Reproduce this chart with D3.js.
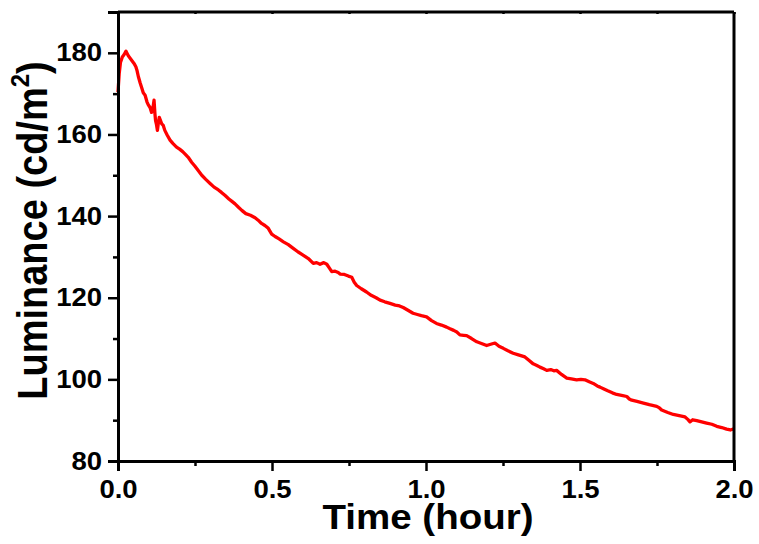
<!DOCTYPE html>
<html>
<head>
<meta charset="utf-8">
<script src="https://cdn.jsdelivr.net/npm/d3@7"></script>
<style>
  body { margin: 0; background: #fff; }
  text { font-family: "Liberation Sans", Arial, sans-serif; font-weight: bold; fill: #000; }
</style>
</head>
<body>
<div id="chart"></div>
<script>
// time in hours and luminance in cd/m2
var timeHours = [
  0.000, 0.004, 0.008, 0.014, 0.020, 0.026, 0.030, 0.034, 0.040, 0.046,
  0.052, 0.058, 0.062, 0.066, 0.072, 0.078, 0.082, 0.088, 0.094, 0.098,
  0.104, 0.109, 0.114, 0.117, 0.120, 0.122, 0.125, 0.128, 0.131, 0.134,
  0.138, 0.142, 0.147, 0.152, 0.160, 0.169, 0.178, 0.190, 0.200, 0.210,
  0.218, 0.228, 0.239, 0.250, 0.261, 0.272, 0.285, 0.299, 0.312, 0.326,
  0.336, 0.347, 0.360, 0.370, 0.380, 0.392, 0.402, 0.415, 0.430, 0.445,
  0.455, 0.466, 0.477, 0.488, 0.499, 0.510, 0.523, 0.537, 0.553, 0.569,
  0.585, 0.602, 0.618, 0.634, 0.645, 0.656, 0.668, 0.678, 0.687, 0.694,
  0.705, 0.715, 0.721, 0.735, 0.748, 0.759, 0.767, 0.775, 0.790, 0.807,
  0.822, 0.838, 0.851, 0.866, 0.883, 0.900, 0.914, 0.926, 0.940, 0.958,
  0.972, 0.985, 1.002, 1.018, 1.034, 1.050, 1.067, 1.078, 1.090, 1.100,
  1.110, 1.122, 1.132, 1.148, 1.165, 1.180, 1.197, 1.210, 1.224, 1.237,
  1.251, 1.266, 1.283, 1.300, 1.321, 1.335, 1.348, 1.360, 1.370, 1.382,
  1.392, 1.405, 1.415, 1.424, 1.440, 1.457, 1.472, 1.489, 1.503, 1.516,
  1.530, 1.543, 1.556, 1.565, 1.576, 1.590, 1.605, 1.619, 1.635, 1.652,
  1.660, 1.668, 1.685, 1.706, 1.725, 1.749, 1.758, 1.765, 1.785, 1.803,
  1.822, 1.841, 1.850, 1.857, 1.866, 1.879, 1.895, 1.911, 1.928, 1.944,
  1.960, 1.976, 1.988, 2.000
];
var luminance = [
  170.4, 175.0, 177.6, 179.0, 179.6, 180.4, 179.8, 179.2, 178.6, 178.0,
  177.4, 176.6, 175.6, 174.2, 172.6, 171.2, 170.2, 169.6, 168.0, 167.3,
  166.6, 165.4, 166.8, 168.4, 165.0, 163.4, 162.4, 161.0, 162.8, 164.2,
  163.4, 162.6, 162.2, 161.0, 159.8, 158.6, 157.8, 156.9, 156.4, 155.8,
  155.2, 154.4, 153.2, 152.2, 151.1, 150.0, 149.0, 148.0, 147.1, 146.4,
  145.8, 145.1, 144.2, 143.6, 143.0, 142.1, 141.4, 140.6, 140.2, 139.6,
  139.0, 138.2, 137.7, 137.0, 135.6, 135.0, 134.4, 133.7, 133.0, 132.1,
  131.2, 130.4, 129.6, 128.4, 128.6, 128.2, 128.6, 128.2, 127.2, 126.4,
  126.5, 126.2, 125.8, 125.7, 125.3, 125.0, 123.8, 123.0, 122.2, 121.4,
  120.6, 120.0, 119.4, 119.0, 118.6, 118.2, 118.0, 117.6, 117.0, 116.2,
  115.9, 115.6, 115.3, 114.4, 113.7, 113.3, 112.8, 112.4, 112.0, 111.6,
  110.9, 110.8, 110.7, 110.0, 109.2, 108.8, 108.3, 108.6, 108.9, 108.1,
  107.6, 107.0, 106.4, 106.0, 105.5, 104.6, 103.8, 103.4, 103.0, 102.6,
  102.2, 102.4, 102.1, 102.2, 101.2, 100.3, 100.1, 99.9, 100.0, 99.9,
  99.4, 99.0, 98.4, 98.1, 97.7, 97.2, 96.7, 96.3, 96.1, 95.8,
  95.2, 94.9, 94.6, 94.2, 93.8, 93.4, 93.0, 92.5, 91.9, 91.4,
  91.1, 90.8, 90.2, 89.6, 90.1, 89.9, 89.6, 89.3, 89.0, 88.5,
  88.2, 87.8, 87.6, 87.9
];
var xTicks = [0, 0.5, 1.0, 1.5, 2.0];
var xMinor = [0.25, 0.75, 1.25, 1.75];
var yTicks = [80, 100, 120, 140, 160, 180];
var yMinor = [90, 110, 130, 150, 170];

var width = 759, height = 544;
var margin = {top: 12, right: 25, bottom: 83, left: 118};
var innerW = width - margin.left - margin.right,
    innerH = height - margin.top - margin.bottom;

var svg = d3.select("#chart").append("svg")
    .attr("width", width)
    .attr("height", height);

var g = svg.append("g")
    .attr("transform", "translate(" + margin.left + "," + margin.top + ")");

var x = d3.scaleLinear().domain([0, 2]).range([0, innerW]);
var y = d3.scaleLinear().domain([80, 190]).range([innerH, 0]);

var data = timeHours.map((t, i) => ({t: t, v: luminance[i]}));

// the curve
g.append("path")
    .datum(data)
    .attr("fill", "none")
    .attr("stroke", "#ff0000")
    .attr("stroke-width", 3.3)
    .attr("stroke-linejoin", "round")
    .attr("d", d3.line().x(d => x(d.t)).y(d => y(d.v)));

// bottom axis, major + minor
var xAxis = g.append("g")
    .attr("transform", "translate(0," + innerH + ")")
    .call(d3.axisBottom(x).tickValues(xTicks).tickSize(10).tickPadding(9).tickFormat(d3.format(".1f")));
g.append("g")
    .attr("transform", "translate(0," + innerH + ")")
    .call(d3.axisBottom(x).tickValues(xMinor).tickSize(5).tickFormat(""))
    .select(".domain").remove();

// left axis
var yAxis = g.append("g")
    .call(d3.axisLeft(y).tickValues(yTicks).tickSize(10).tickPadding(6));
g.append("g")
    .call(d3.axisLeft(y).tickValues(yMinor).tickSize(5).tickFormat(""))
    .select(".domain").remove();

// top and right frame
g.append("g")
    .call(d3.axisTop(x).tickValues(xMinor.concat(xTicks)).tickSize(-2).tickFormat(""))
    .select(".domain").attr("d", "M0,0H" + innerW);
g.append("g")
    .attr("transform", "translate(" + innerW + ",0)")
    .call(d3.axisRight(y).tickValues([]).tickSize(0))
    .select(".domain").attr("d", "M0,0V" + innerH);

g.selectAll(".domain").attr("stroke", "#000").attr("stroke-width", 3);
g.selectAll(".tick line").attr("stroke", "#000").attr("stroke-width", 2.5);

xAxis.selectAll("text")
    .attr("font-size", 25)
    .attr("font-family", "Liberation Sans, Arial, sans-serif")
    .attr("font-weight", "bold")
    .attr("dy", "0.71em")
    .attr("transform", "scale(1.1,1)");
yAxis.selectAll("text")
    .attr("font-size", 25)
    .attr("font-family", "Liberation Sans, Arial, sans-serif")
    .attr("font-weight", "bold")
    .attr("x", -16 / 1.1)
    .attr("transform", "scale(1.1,1)");

// axis titles
svg.append("text")
    .attr("transform", "translate(" + (margin.left + innerW / 2 + 2) + ",529) scale(1.1,1)")
    .attr("text-anchor", "middle")
    .attr("font-size", 35)
    .text("Time (hour)");

var yTitle = svg.append("text")
    .attr("transform", "translate(47," + (margin.top + innerH / 2 - 6) + ") rotate(-90) scale(1,1.1)")
    .attr("text-anchor", "middle")
    .attr("font-size", 38);
yTitle.append("tspan").text("Luminance (cd/m");
yTitle.append("tspan").attr("font-size", 24).attr("dy", -16).text("2");
yTitle.append("tspan").attr("dy", 16).text(")");
</script>
</body>
</html>
